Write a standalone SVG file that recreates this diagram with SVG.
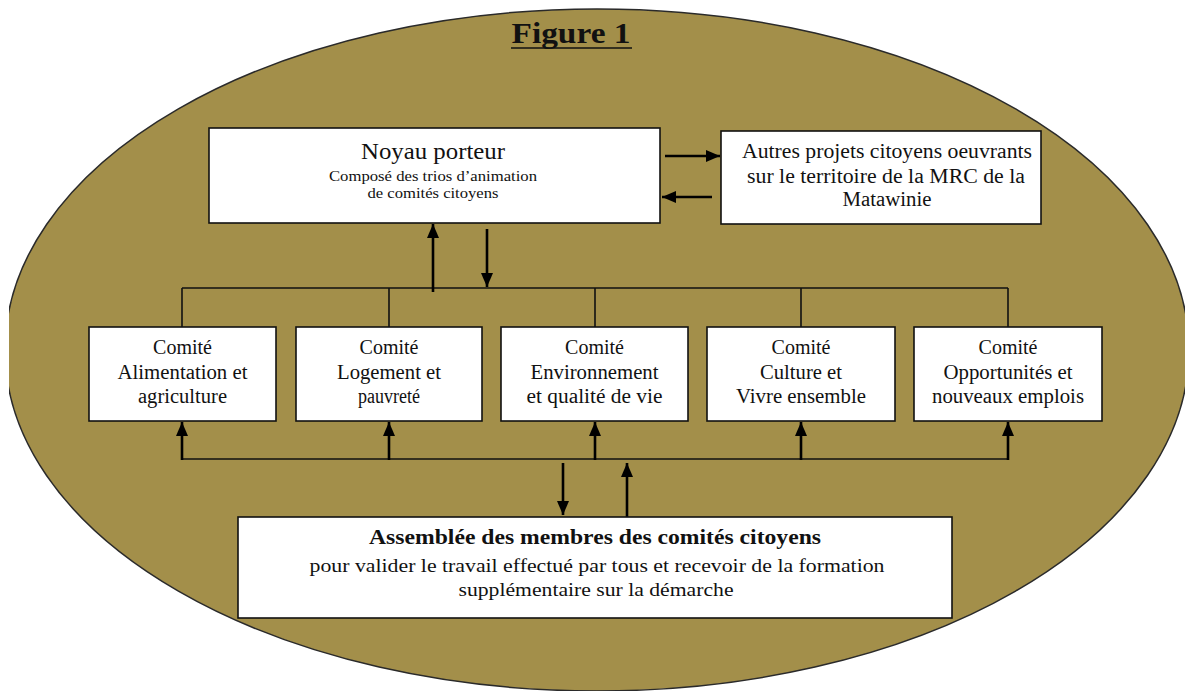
<svg xmlns="http://www.w3.org/2000/svg" width="1185" height="691" viewBox="0 0 1185 691">
<style>
.box{fill:#ffffff;stroke:#111;stroke-width:1.6}
.t{font-family:'Liberation Serif','DejaVu Serif',serif;fill:#111;text-anchor:middle}
.bus{fill:none;stroke:#111;stroke-width:1.6}
.arr{fill:none;stroke:#000;stroke-width:2.6}
</style>
<defs>
<marker id="ah" viewBox="0 0 14 12" refX="14" refY="6" markerWidth="14" markerHeight="12" markerUnits="userSpaceOnUse" orient="auto">
<path d="M0,0 L14,6 L0,12 Z" fill="#000"/>
</marker>
<clipPath id="clipL"><rect x="9" y="0" width="1176" height="691"/></clipPath>
</defs>
<rect x="0" y="0" width="1185" height="691" fill="#ffffff"/>
<g id="background">
<ellipse cx="597" cy="350" rx="592" ry="341" fill="#A38F4A" stroke="#2a2a2a" stroke-width="1.5" clip-path="url(#clipL)"/>
</g>
<g id="title">
<text class="t" x="571" y="43" font-size="29" font-weight="bold" textLength="119" lengthAdjust="spacingAndGlyphs">Figure 1</text>
<line x1="511" y1="48" x2="632" y2="48" stroke="#111" stroke-width="1.6"/>
</g>
<g id="connectors">
<path class="bus" d="M182,288 H1008 M182,288 V327 M389,288 V327 M595,288 V327 M801,288 V327 M1008,288 V327"/>
<path class="bus" d="M182,459 H1008"/>
<line class="arr" x1="665" y1="156" x2="720" y2="156" marker-end="url(#ah)"/>
<line class="arr" x1="712" y1="197" x2="662" y2="197" marker-end="url(#ah)"/>
<line class="arr" x1="433" y1="292" x2="433" y2="224" marker-end="url(#ah)"/>
<line class="arr" x1="487" y1="229" x2="487" y2="287" marker-end="url(#ah)"/>
<line class="arr" x1="182" y1="460" x2="182" y2="422" marker-end="url(#ah)"/>
<line class="arr" x1="389" y1="460" x2="389" y2="422" marker-end="url(#ah)"/>
<line class="arr" x1="595" y1="460" x2="595" y2="422" marker-end="url(#ah)"/>
<line class="arr" x1="801" y1="460" x2="801" y2="422" marker-end="url(#ah)"/>
<line class="arr" x1="1008" y1="460" x2="1008" y2="422" marker-end="url(#ah)"/>
<line class="arr" x1="563" y1="463" x2="563" y2="515" marker-end="url(#ah)"/>
<line class="arr" x1="627" y1="517" x2="627" y2="463" marker-end="url(#ah)"/>
</g>
<g id="noyau">
<rect class="box" x="209" y="128" width="451" height="95"/>
<text class="t" x="433" y="159" font-size="23" textLength="144" lengthAdjust="spacingAndGlyphs">Noyau porteur</text>
<text class="t" x="433" y="181" font-size="15" textLength="208" lengthAdjust="spacingAndGlyphs">Composé des trios d’animation</text>
<text class="t" x="433" y="198" font-size="15" textLength="131" lengthAdjust="spacingAndGlyphs">de comités citoyens</text>
</g>
<g id="autres">
<rect class="box" x="721" y="131" width="320" height="93"/>
<text class="t" x="887" y="158" font-size="20.5" textLength="290" lengthAdjust="spacingAndGlyphs">Autres projets citoyens oeuvrants</text>
<text class="t" x="886" y="183" font-size="20.5" textLength="278" lengthAdjust="spacingAndGlyphs">sur le territoire de la MRC de la</text>
<text class="t" x="887" y="206" font-size="20.5" textLength="89" lengthAdjust="spacingAndGlyphs">Matawinie</text>
</g>
<g id="comite-alimentation">
<rect class="box" x="89" y="327" width="187" height="94"/>
<text class="t" x="182.5" y="354" font-size="20">Comité</text>
<text class="t" x="182.5" y="379" font-size="20" textLength="130" lengthAdjust="spacingAndGlyphs">Alimentation et</text>
<text class="t" x="182.5" y="403" font-size="20" textLength="89" lengthAdjust="spacingAndGlyphs">agriculture</text>
</g>
<g id="comite-logement">
<rect class="box" x="296" y="327" width="186" height="94"/>
<text class="t" x="389" y="354" font-size="20">Comité</text>
<text class="t" x="389" y="379" font-size="20" textLength="104" lengthAdjust="spacingAndGlyphs">Logement et</text>
<text class="t" x="389" y="403" font-size="20" textLength="62" lengthAdjust="spacingAndGlyphs">pauvreté</text>
</g>
<g id="comite-environnement">
<rect class="box" x="501" y="327" width="187" height="94"/>
<text class="t" x="594.5" y="354" font-size="20">Comité</text>
<text class="t" x="594.5" y="379" font-size="20" textLength="128" lengthAdjust="spacingAndGlyphs">Environnement</text>
<text class="t" x="594.5" y="403" font-size="20" textLength="136" lengthAdjust="spacingAndGlyphs">et qualité de vie</text>
</g>
<g id="comite-culture">
<rect class="box" x="707" y="327" width="188" height="94"/>
<text class="t" x="801" y="354" font-size="20">Comité</text>
<text class="t" x="801" y="379" font-size="20" textLength="82" lengthAdjust="spacingAndGlyphs">Culture et</text>
<text class="t" x="801" y="403" font-size="20" textLength="130" lengthAdjust="spacingAndGlyphs">Vivre ensemble</text>
</g>
<g id="comite-opportunites">
<rect class="box" x="914" y="327" width="188" height="94"/>
<text class="t" x="1008" y="354" font-size="20">Comité</text>
<text class="t" x="1008" y="379" font-size="20" textLength="129" lengthAdjust="spacingAndGlyphs">Opportunités et</text>
<text class="t" x="1008" y="403" font-size="20" textLength="152" lengthAdjust="spacingAndGlyphs">nouveaux emplois</text>
</g>
<g id="assemblee">
<rect class="box" x="238" y="517" width="714" height="101"/>
<text class="t" x="595" y="544" font-size="21" font-weight="bold" textLength="452" lengthAdjust="spacingAndGlyphs">Assemblée des membres des comités citoyens</text>
<text class="t" x="597" y="572" font-size="19" textLength="575" lengthAdjust="spacingAndGlyphs">pour valider le travail effectué par tous et recevoir de la formation</text>
<text class="t" x="596" y="596" font-size="19" textLength="275" lengthAdjust="spacingAndGlyphs">supplémentaire sur la démarche</text>
</g>
</svg>
